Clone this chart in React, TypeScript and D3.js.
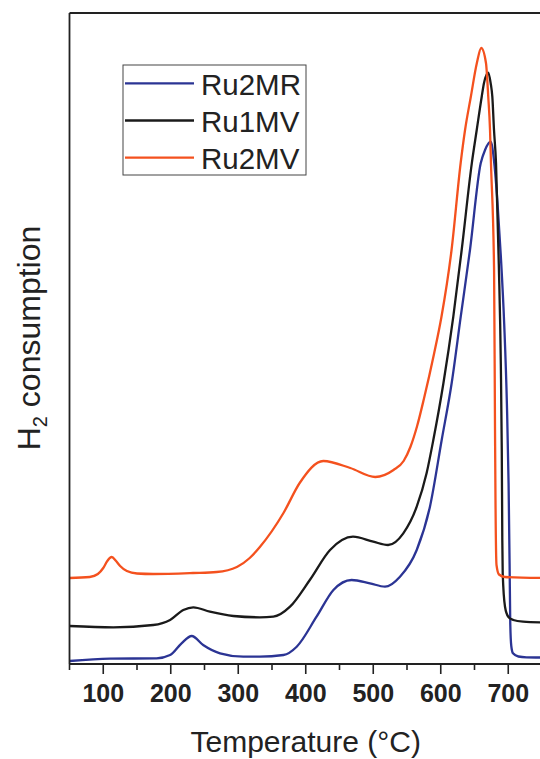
import React from 'react';
import * as d3 from 'd3';

// Temperature (°C) and H2 consumption (a.u.)
const ru2mrT = [50, 110, 179, 199, 216, 231, 248, 273, 307.5, 332, 367, 386.6, 416, 441, 468, 495, 517.4, 539.6, 564.4, 584, 601.4, 616.2, 629.6, 643.3, 659.2, 665.6, 674, 679.3, 684, 689, 694, 698, 700.5, 702, 703, 704.5, 707, 715, 727, 750];
const ru2mrV = [3, 5.3, 5.7, 9, 20.7, 28, 19, 10.7, 7.3, 7.3, 9, 17.3, 47.3, 74, 84, 80.7, 77.3, 87.3, 114, 157.3, 224, 281, 347.3, 414, 500.7, 514, 522.3, 500.7, 462, 408, 340, 260, 180, 100, 40, 18, 10.7, 7.5, 6.7, 6.5];

const ru1mvT = [50, 115, 174, 199, 218.6, 233.4, 258, 292.7, 332, 352, 376.7, 406, 436, 470, 500, 522, 544.5, 564.4, 579, 589, 604, 618.6, 631, 646, 653.3, 660.7, 664, 670.4, 674, 676.4, 678.9, 681.9, 686, 689, 690.4, 691.2, 691.8, 695.2, 700, 707.5, 722, 750];
const ru1mvV = [38, 36.7, 39, 44, 54, 56.7, 52.3, 48, 46.7, 47.3, 57.3, 84, 114, 127.3, 122.3, 119, 130.7, 157.3, 190.7, 224, 281, 347.3, 414, 500.7, 534, 567.3, 580.7, 591.3, 580.7, 567.3, 534, 500.7, 400, 300, 214, 124, 90.7, 57.3, 47.3, 44, 42.3, 41.5];

const ru2mvT = [50, 80, 92, 100, 106, 112.5, 119, 125, 135, 150, 174, 233, 268, 298, 317, 332, 367, 391, 426, 466, 503, 530, 545, 555, 565, 575, 590, 601, 616, 629.5, 636, 644.5, 653.5, 660, 667, 670.4, 673, 674.4, 679, 680.4, 681.1, 682.6, 686.3, 695, 750];
const ru2mvV = [86, 87, 90, 96, 103, 107, 103, 98, 93, 90.5, 90, 91, 92, 97, 106, 117, 151, 181, 203, 196, 187, 194, 203, 217, 238, 265, 310, 347, 414, 501, 534, 567, 601, 616, 601, 567, 534, 501, 394, 234, 164, 99, 89.5, 87, 86];

const seriesNames = ['Ru2MR', 'Ru1MV', 'Ru2MV'];
const seriesColors = ['#2b3494', '#1a1a1a', '#f4511e'];
const majorTicks = [100, 200, 300, 400, 500, 600, 700];
const minorTicks = [50, 150, 250, 350, 450, 550, 650, 750];

const FONT = '"Liberation Sans", Arial, Helvetica, sans-serif';

export default function App() {
  const x = d3.scaleLinear().domain([50, 750]).range([69.5, 542]);
  const y = d3.scaleLinear().domain([0, 651]).range([664, 13]);
  const line = d3
    .line<[number, number]>()
    .x((d) => x(d[0]))
    .y((d) => y(d[1]))
    .curve(d3.curveMonotoneX);

  const series = [
    { name: seriesNames[0], color: seriesColors[0], pts: ru2mrT.map((t, i) => [t, ru2mrV[i]] as [number, number]) },
    { name: seriesNames[1], color: seriesColors[1], pts: ru1mvT.map((t, i) => [t, ru1mvV[i]] as [number, number]) },
    { name: seriesNames[2], color: seriesColors[2], pts: ru2mvT.map((t, i) => [t, ru2mvV[i]] as [number, number]) },
  ];

  const [x0, x1] = x.range();
  const [yb, yt] = y.range();

  return (
    <svg
      width={540}
      height={759}
      style={{ position: 'absolute', left: 0, top: 0, background: '#fff' }}
      fontFamily={FONT}
    >
      <rect x={0} y={0} width={540} height={759} fill="#fff" />
      <defs>
        <clipPath id="plot">
          <rect x={x0} y={yt} width={x1 - x0} height={yb - yt} />
        </clipPath>
      </defs>
      <g clipPath="url(#plot)">
        {series.map((s) => (
          <path key={s.name} d={line(s.pts) || ''} fill="none" stroke={s.color} strokeWidth={2.3} strokeLinejoin="round" />
        ))}
      </g>
      {/* frame */}
      <line x1={x0} x2={x1} y1={yt} y2={yt} stroke="#222" strokeWidth={1.8} />
      <line x1={x0} x2={x0} y1={yt} y2={yb} stroke="#222" strokeWidth={1.8} />
      <line x1={x0} x2={x1} y1={yb} y2={yb} stroke="#222" strokeWidth={2} />
      {majorTicks.map((t) => (
        <g key={'M' + t}>
          <line x1={x(t)} x2={x(t)} y1={yb} y2={yb + 10} stroke="#222" strokeWidth={1.6} />
          <text x={x(t)} y={701.5} textAnchor="middle" fontSize={25} fontWeight="bold" fill="#222">
            {t}
          </text>
        </g>
      ))}
      {minorTicks.map((t) => (
        <line key={'m' + t} x1={x(t)} x2={x(t)} y1={yb} y2={yb + 6} stroke="#222" strokeWidth={1.6} />
      ))}
      <text x={305.7} y={751.5} textAnchor="middle" fontSize={30} fill="#222">
        Temperature (°C)
      </text>
      <text transform="translate(40,338) rotate(-90)" textAnchor="middle" fontSize={32} fill="#222">
        H
        <tspan fontSize={20} dy={7}>2</tspan>
        <tspan dy={-7}> consumption</tspan>
      </text>
      {/* legend */}
      <rect x={123} y={65} width={183} height={110} fill="#fff" stroke="#444" strokeWidth={1} />
      {series.map((s, i) => (
        <g key={'lg' + s.name}>
          <line x1={125} x2={194} y1={83.3 + i * 37.2} y2={83.3 + i * 37.2} stroke={s.color} strokeWidth={2.3} />
          <text x={201} y={95 + i * 37.2} fontSize={29.5} fill="#222">
            {s.name}
          </text>
        </g>
      ))}
    </svg>
  );
}
